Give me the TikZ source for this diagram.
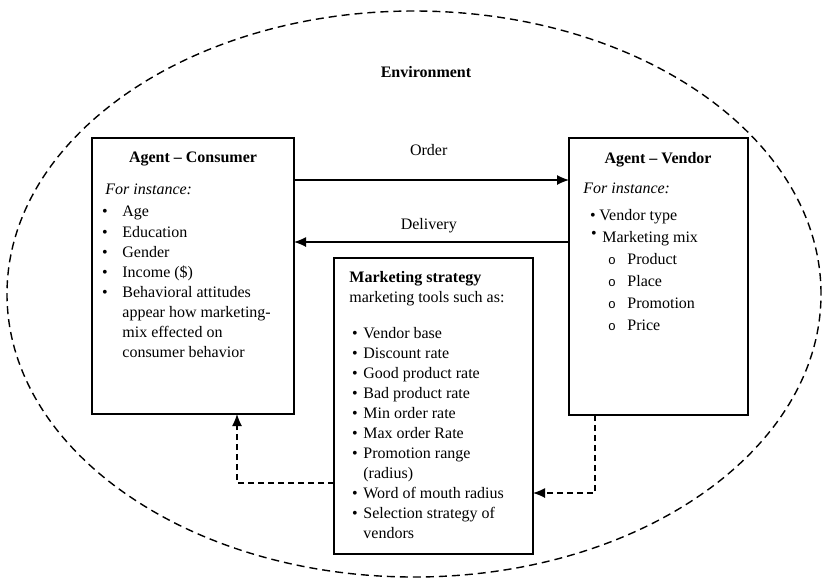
\documentclass[tikz,border=0pt]{standalone}
\usepackage{fontspec}
\setmainfont{Liberation Serif}
\newfontfamily\subbulletfont{Liberation Mono}
\usetikzlibrary{shapes.geometric,arrows.meta}

\begin{document}
\begin{tikzpicture}[x=0.5pt,y=-0.5pt,
  txt/.style={anchor=base west, inner sep=0pt, font=\fontsize{8}{10}\selectfont},
  ctxt/.style={txt, anchor=base},
  ttl/.style={txt, font=\fontsize{8}{10}\selectfont\bfseries},
  bul/.style={anchor=base, inner sep=0pt, font=\fontsize{8}{10}\selectfont},
  sbul/.style={anchor=base, inner sep=0pt, font=\fontsize{6.5}{8}\subbulletfont},
  box/.style={draw, line width=0.6pt, anchor=north west, inner sep=0pt, outer sep=0pt},
  arr/.style={line width=0.6pt, -{Latex[length=6pt,width=5pt]}},
  darr/.style={arr, dash pattern=on 3pt off 2pt},
]
\useasboundingbox (0,0) rectangle (822,579);

% environment boundary
\node[ellipse, draw, line width=0.7pt, dash pattern=on 4pt off 2.5pt,
      minimum width=407pt, minimum height=283pt, inner sep=0pt] (env) at (414,294) {};
\node[ttl, anchor=base] (envlbl) at (426,77) {Environment};

% the three boxes
\node[box, minimum width=101pt, minimum height=138pt] (cons) at (92,138) {};
\node[box, minimum width=89.5pt, minimum height=138.5pt] (vend) at (569,138) {};
\node[box, minimum width=99.5pt, minimum height=148pt] (mkt) at (334,258) {};

% consumer agent
\node[ttl, anchor=base] (ctitle) at (193,162) {Agent -- Consumer};
\node[txt] (cinst) at (105,194) {\itshape For instance:};
\foreach \t/\y [count=\i] in {Age/216, Education/237, Gender/257, Income (\$)/277, Behavioral attitudes/297}{
  \node[bul] (cb\i) at (105,\y) {•};
  \node[txt] (ct\i) at (122,\y) {\t};
}
\node[txt] (cc1) at (122,317) {appear how marketing-};
\node[txt] (cc2) at (122,337) {mix effected on};
\node[txt] (cc3) at (122,357) {consumer behavior};

% vendor agent
\node[ttl, anchor=base] (vtitle) at (658,163) {Agent -- Vendor};
\node[txt] (vinst) at (583,193) {\itshape For instance:};
\node[bul] (vb1) at (593,220) {•};
\node[txt] (vt1) at (599,220) {Vendor type};
\node[bul] (vb2) at (594,238) {•};
\node[txt] (vt2) at (602,242) {Marketing mix};
\foreach \t/\y [count=\i] in {Product/264, Place/286, Promotion/308, Price/330}{
  \node[sbul] (vs\i) at (612,\y) {o};
  \node[txt] (vst\i) at (627,\y) {\t};
}

% marketing strategy
\node[ttl] (mtitle) at (349,282) {Marketing strategy};
\node[txt] (msub) at (349,302) {marketing tools such as:};
\foreach \t/\y [count=\i] in {Vendor base/338, Discount rate/358, Good product rate/378,
    Bad product rate/398, Min order rate/418, Max order Rate/438, Promotion range/458,
    Word of mouth radius/498, Selection strategy of/518}{
  \node[bul] (mb\i) at (355,\y) {•};
  \node[txt] (mt\i) at (363,\y) {\t};
}
\node[txt] (mc1) at (363,478) {(radius)};
\node[txt] (mc2) at (363,538) {vendors};

% order and delivery flows
\draw[arr] ([yshift=-21pt]cons.north east) -- node[ctxt, pos=0.49, yshift=12.5pt] (order) {Order} ([yshift=-21pt]vend.north west);
\draw[arr] ([yshift=-52pt]vend.north west) -- node[ctxt, pos=0.51, yshift=6.5pt] (deliv) {Delivery} ([yshift=-52pt]cons.north east);

% feedback of the marketing strategy
\draw[darr] ([yshift=-112.5pt]mkt.north west) -| ([xshift=72.5pt]cons.south west);
\draw[darr] ([xshift=13pt]vend.south west) |- ([yshift=-117.5pt]mkt.north east);
\end{tikzpicture}
\end{document}
